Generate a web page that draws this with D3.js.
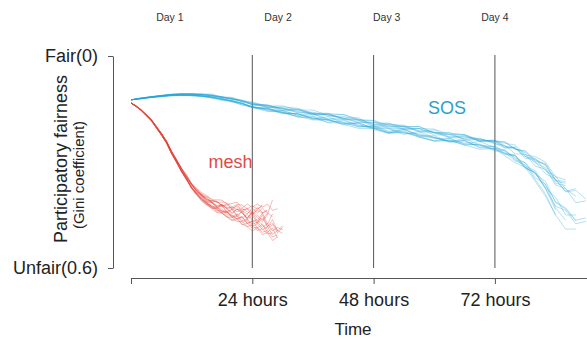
<!DOCTYPE html>
<html>
<head>
<meta charset="utf-8">
<script src="https://cdn.jsdelivr.net/npm/d3@7"></script>
<style>
  body { margin: 0; background: #fff; }
  svg { display: block; font-family: "Liberation Sans", Arial, Helvetica, sans-serif; }
</style>
</head>
<body>
<svg id="chart" width="587" height="339"></svg>
<script>
// hours where the runs are sampled
var sosHours = [0,2,4,6,8,10,12,14,16,18,20,22,24,27,30,33,36,39,42,45,48,51,54,57,60,63,66,69,72,74,76,78,80,82,84,86,88,90];
// typical gini of the SOS runs at those hours
var sosMean = [0.124,0.120,0.116,0.113,0.110,0.109,0.109,0.111,0.114,0.119,0.124,0.131,0.139,
  0.146,0.153,0.160,0.167,0.174,0.181,0.188,0.196,0.203,0.209,0.216,0.223,0.230,0.237,0.244,0.252,
  0.261,0.272,0.290,0.310,0.335,0.370,0.395,0.405,0.410];
// each run's deviation from the typical value, in thousandths
var sosRuns = [
  [0,1,2,1,3,2,4,3,5,7,4,8,6, 11,5,13,8,15,9,4,12,16,7,14,18,9,15,5,12, 18,10,25,20,38,30,55,45],
  [0,-1,-1,-2,-1,-3,-2,-4,-6,-3,-7,-5,-9, -4,-12,-7,-14,-6,-16,-10,-3,-13,-8,-17,-5,-12,-15,-7,-11, -18,-8,-22,-15,-30,-20,-10,-25,-5],
  [0,0,1,2,1,2,3,1,4,2,6,3,7, 2,9,4,11,-2,8,13,1,10,-4,9,3,12,-3,8,14, 6,22,12,35,28,60,70],
  [0,-1,0,-1,-2,0,-2,-3,-1,-4,-2,-6,-1, -8,-3,-10,0,-9,-5,-13,2,-8,-11,-3,-14,0,-9,-4,-12, -2,-15,-5,-20,-10,-30,-18,-8],
  [0,1,1,0,2,3,1,4,2,5,3,4,8, 5,10,3,12,6,14,2,9,15,6,11,16,4,13,7,17, 12,25,18,40,55,80],
  [0,0,-1,0,-1,-2,-1,-1,-3,-2,-4,-2,-5, -1,-7,-3,-2,-9,-4,1,-8,-12,-2,-10,-6,-14,1,-7,-10, -4,-12,0,-18,-25,-15,-35],
  [0,1,0,2,1,1,3,2,2,4,1,5,3, 7,1,8,-3,6,10,0,9,3,13,-2,8,11,2,14,4, 16,8,22,15,30,42,35,60,48],
  [0,-1,-1,0,-2,-1,-2,-2,-4,-1,-5,-3,-7, -2,-9,-12,-4,-11,-15,-6,-13,-1,-10,-16,-5,-9,-14,-3,-12, -17,-8,-20,-12,-28,-18,-40],
  [0,0,1,1,2,1,3,2,3,1,4,2,6, 3,8,12,5,14,1,10,6,15,-1,11,7,13,2,16,9, 5,18,26,22,40,55,42,70,58],
  [0,0,0,-1,0,-1,0,-2,0,-3,-1,-4,0, -5,2,-7,-3,4,-6,-1,-9,3,-5,-11,1,-8,-2,-10,-6, 0,-12,-6,-10,-2,-22,-12,-30],
  [0,1,1,2,2,3,2,3,5,3,6,7,4, 9,6,11,14,7,12,17,9,14,4,13,18,8,15,20,10, 22,30,25,45,62,80,95,85],
  [0,-1,0,-1,-1,-2,-2,-1,-3,-4,-2,-5,-4, -7,-1,-9,-5,-12,-3,-8,-14,-6,-1,-11,-16,-7,-13,-2,-9, -14,-20,-10,-25,-35,-28,-45],
  [0,0,1,0,1,2,1,3,1,2,4,2,5, 1,7,3,9,5,-1,8,4,12,0,7,10,3,11,-2,8, 15,10,28,20,40,65],
  [0,0,0,-1,-1,0,-1,-1,-2,0,-2,-1,-3, 0,-5,1,-4,-8,-2,-6,3,-4,-9,-1,-7,2,-6,-11,-3, -8,5,-12,2,-15,-5,-20,10,0],
  [0,1,0,1,1,2,2,1,2,4,2,3,6, 4,2,7,3,9,6,12,5,1,10,4,8,14,6,10,3, 9,16,12,25,20,45,38,62],
  [0,-1,-1,-1,0,-2,-1,-3,-2,-2,-4,-3,-2, -6,-4,-1,-8,-3,-10,-7,-2,-9,-13,-4,-8,-1,-11,-5,-14, -6,-10,-16,-8,-18,-10,-28]
];

var meshHours = [0,1,2,3,4,5,6,7,8,9,10,11,12,13,14,15,16,17,18,19,20,21,22,23,24,25,26,27,28,29,30];
var meshMean = [0.133,0.142,0.153,0.167,0.181,0.201,0.221,0.243,0.272,0.297,0.323,0.345,0.368,0.385,0.399,
  0.410,0.419,0.425,0.430,0.436,0.442,0.444,0.450,0.453,0.456,0.459,0.461,0.464,0.467,0.470,0.470];
var meshRuns = [
  [0,1,1,2,2,3,3,2,4,3,5,6,8,9,12,10,14,18,15,20,24,19,26,30,22,35,28,40,33],
  [0,-1,-1,-2,-1,-3,-2,-4,-3,-5,-6,-8,-7,-10,-12,-15,-11,-18,-22,-16,-25,-30,-20,-34,-28,-40,-33,-45,-30,-38],
  [0,0,1,0,1,1,2,1,2,3,2,4,3,5,2,6,8,4,10,6,12,3,9,-5,8,14,-2,18,6,25,10],
  [0,0,-1,0,-1,-2,-1,-2,-3,-2,-4,-3,-5,-2,-7,-4,-9,-12,-6,-14,-10,-3,-15,-20,-8,-25,-40],
  [0,1,0,2,1,2,3,2,4,5,3,6,4,8,6,9,12,8,15,20,14,25,18,30,40,28,45,35,55,42],
  [0,-1,0,-1,-2,-1,-3,-2,-2,-4,-3,-6,-5,-8,-4,-10,-6,-13,-8,-5,-12,-18,-9,-22,-14,-30,-18,-26],
  [0,0,0,1,1,0,1,2,1,2,4,3,6,4,7,10,5,12,8,3,10,16,6,20,12,4,18,26,10,30,15],
  [0,0,0,-1,0,-1,-1,0,-2,-1,-1,-3,-2,-4,-1,-5,-3,0,-8,-4,2,-10,-6,5,-12,-2,8,-15,-60],
  [0,1,1,1,2,1,2,3,3,4,5,4,7,6,10,13,9,16,12,18,22,15,28,20,32,25,38,30,45,36],
  [0,-1,-1,-1,-2,-2,-3,-3,-4,-3,-5,-7,-6,-9,-8,-12,-14,-10,-17,-20,-15,-24,-28,-20,-32,-26,-36],
  [0,0,1,1,0,2,1,1,3,2,2,5,3,2,6,4,8,2,10,5,14,7,16,9,20,12,24,10,28,15,22],
  [0,0,-1,-1,0,-1,-2,-1,-1,-3,-2,-2,-4,-6,-3,-8,-5,-2,-10,-6,-14,-9,-18,-12,-8,-22,-16,-28],
  [0,1,0,1,2,2,1,3,2,2,4,3,5,3,-2,4,-4,6,-6,8,-8,10,-10,12,-6,15,-12,20,-4,25],
  [0,-1,0,0,-1,0,-1,-1,0,-2,0,-1,-3,1,-4,2,-5,3,-6,4,-8,6,-10,8,-14,10,-18,12,-20],
  [0,0,1,1,2,1,2,2,3,1,4,2,6,4,9,5,11,7,3,14,8,18,4,22,10,28,15,35,20,45],
  [0,-1,0,-1,-1,-2,-1,-3,-1,-2,-4,-1,-6,-3,-8,-2,-10,-14,-5,-18,-8,-22,-12,-6,-25,-15,-30,-20],
  [0,1,1,0,1,2,2,1,2,4,2,3,5,7,4,8,3,10,14,6,16,9,20,13,26,16,30,20,38,24,32],
  [0,0,0,-1,-1,0,-2,-1,-1,-2,-3,0,-4,-2,-5,0,-7,2,-9,-3,4,-12,-5,6,-15,-8,3,-20,-12]
];

var hourTicks = [0, 24, 48, 72];
var dayLabels = ["Day 1", "Day 2", "Day 3", "Day 4"];
var dayHours = [7.7, 29.1, 50.6, 72];
var fairTicks = [0, 0.6];
var fairLabels = ["Fair(0)", "Unfair(0.6)"];

var svg = d3.select("#chart");

var x = d3.scaleLinear().domain([0, 92]).range([131, 596]);
var y = d3.scaleLinear().domain([0, 0.6]).range([56, 268]);

function toRuns(hours, mean, runs) {
  return runs.map(function(r) {
    return r.map(function(o, i) { return { t: hours[i], g: mean[i] + o / 1000 }; });
  });
}

var line = d3.line()
  .x(function(d) { return x(d.t); })
  .y(function(d) { return y(d.g); });

// day / hour markers
svg.append("g").selectAll("line")
  .data(hourTicks.slice(1))
  .enter().append("line")
  .attr("x1", function(d) { return x(d); })
  .attr("x2", function(d) { return x(d); })
  .attr("y1", 55)
  .attr("y2", 268)
  .attr("stroke", "#555")
  .attr("stroke-width", 1);

svg.append("g").selectAll("text")
  .data(dayLabels)
  .enter().append("text")
  .attr("x", function(d, i) { return x(dayHours[i]); })
  .attr("y", 21)
  .attr("text-anchor", "middle")
  .attr("font-size", "10.5px")
  .attr("fill", "#333")
  .text(function(d) { return d; });

// runs
svg.append("g")
  .selectAll("path")
  .data(toRuns(sosHours, sosMean, sosRuns))
  .enter().append("path")
  .attr("d", line)
  .attr("fill", "none")
  .attr("stroke", "#23a3d6")
  .attr("stroke-opacity", 0.38)
  .attr("stroke-width", 0.9);

svg.append("g")
  .selectAll("path")
  .data(toRuns(meshHours, meshMean, meshRuns))
  .enter().append("path")
  .attr("d", line)
  .attr("fill", "none")
  .attr("stroke", "#e4443c")
  .attr("stroke-opacity", 0.4)
  .attr("stroke-width", 0.9);

svg.append("text")
  .attr("x", x(19.7)).attr("y", y(0.3))
  .attr("dy", "0.35em")
  .attr("text-anchor", "middle")
  .attr("font-size", "18px")
  .attr("fill", "#df4b45")
  .text("mesh");

svg.append("text")
  .attr("x", x(62.5)).attr("y", y(0.147))
  .attr("dy", "0.35em")
  .attr("text-anchor", "middle")
  .attr("font-size", "18px")
  .attr("fill", "#2a9fcc")
  .text("SOS");

// axes
var xAxis = svg.append("g")
  .attr("transform", "translate(0,278)")
  .call(d3.axisBottom(x)
    .tickValues(hourTicks)
    .tickSize(6)
    .tickSizeOuter(0)
    .tickPadding(9)
    .tickFormat(function(d) { return d === 0 ? "" : d + " hours"; }));

var yAxis = svg.append("g")
  .attr("transform", "translate(113,0)")
  .call(d3.axisLeft(y)
    .tickValues(fairTicks)
    .tickSize(5)
    .tickSizeOuter(0)
    .tickPadding(10)
    .tickFormat(function(d, i) { return fairLabels[i]; }));

[xAxis, yAxis].forEach(function(a) {
  a.selectAll("path, line").attr("stroke", "#555");
  a.selectAll("text")
    .attr("font-size", "18px")
    .attr("font-family", "Liberation Sans, Arial, Helvetica, sans-serif")
    .attr("fill", "#222");
});

svg.append("text")
  .attr("x", 353).attr("y", 335)
  .attr("text-anchor", "middle")
  .attr("font-size", "17px")
  .attr("fill", "#222")
  .text("Time");

svg.append("text")
  .attr("transform", "translate(61,159) rotate(-90)")
  .attr("text-anchor", "middle")
  .attr("dy", "0.35em")
  .attr("font-size", "18px")
  .attr("fill", "#222")
  .text("Participatory fairness");

svg.append("text")
  .attr("transform", "translate(79,175) rotate(-90)")
  .attr("text-anchor", "middle")
  .attr("dy", "0.35em")
  .attr("font-size", "15px")
  .attr("fill", "#222")
  .text("(Gini coefficient)");
</script>
</body>
</html>
